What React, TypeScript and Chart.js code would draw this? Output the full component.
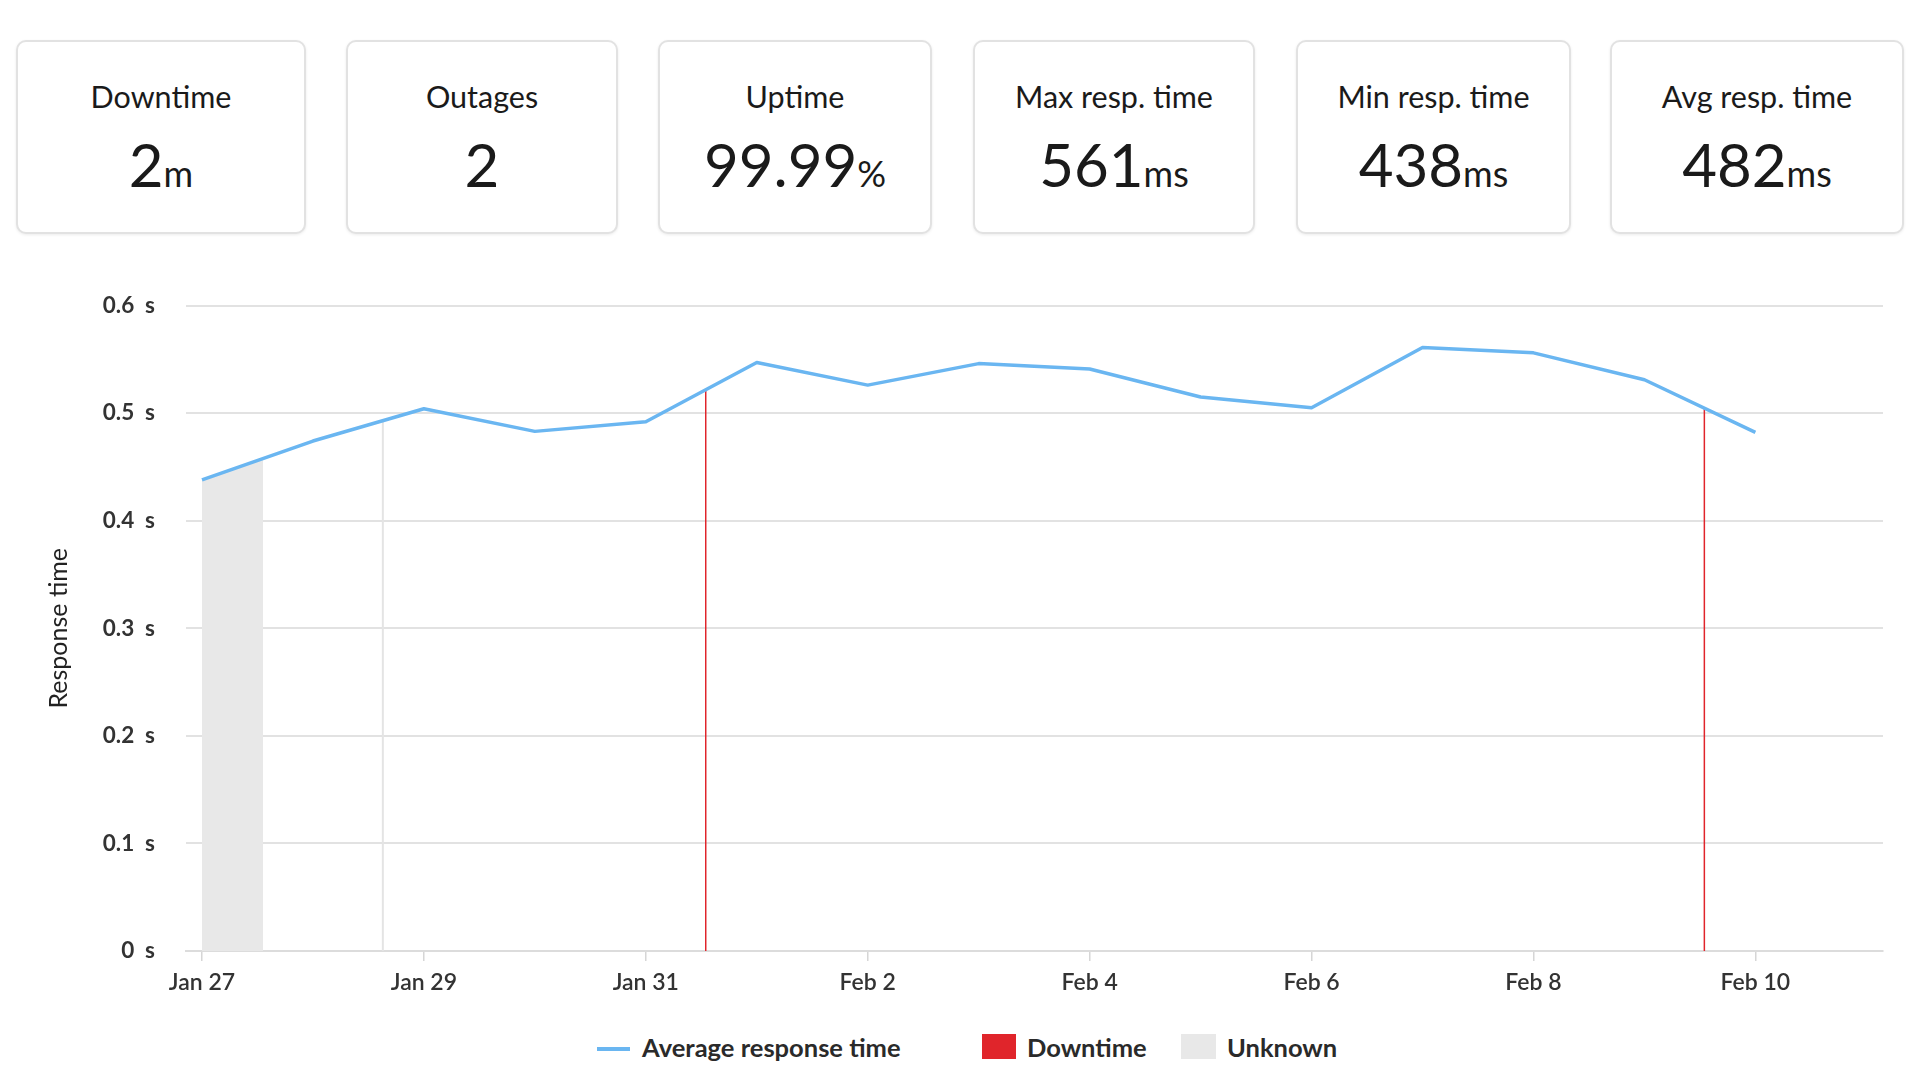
import React, { useEffect, useRef } from "react";
import { Chart, registerables } from "chart.js";

Chart.register(...registerables);

// ---- Data ----
const statTitles = ["Downtime", "Outages", "Uptime", "Max resp. time", "Min resp. time", "Avg resp. time"];
const statValues = ["2", "2", "99.99", "561", "438", "482"];
const statUnits = ["m", "", "%", "ms", "ms", "ms"];

// days since Jan 27
const pointDays = [0, 1, 2, 3, 4, 5, 6, 7, 8, 9, 10, 11, 12, 13, 14];
const avgResponse = [0.438, 0.474, 0.504, 0.483, 0.492, 0.547, 0.526, 0.546, 0.541, 0.515, 0.505, 0.561, 0.556, 0.531, 0.482];

const xTickDays = [0, 2, 4, 6, 8, 10, 12, 14];
const xTickLabels = ["Jan 27", "Jan 29", "Jan 31", "Feb 2", "Feb 4", "Feb 6", "Feb 8", "Feb 10"];
const yTickValues = [0, 0.1, 0.2, 0.3, 0.4, 0.5, 0.6];

const downtimeDays = [4.54, 13.54];
const downtimeTops = [0.522, 0.505];
const unknownDays = [0, 0.55];
const unknownTops = [0.438, 0.458];
const markerDays = [1.63];
const markerTops = [0.493];

const legendLabels = ["Average response time", "Downtime", "Unknown"];

const BLUE = "#6ab6f1";
const RED = "#e0252b";
const GRAY = "#e8e8e8";

// card layout (page px)
const cardBoxes = [
  [16, 290],
  [346, 272],
  [658, 274],
  [973, 282],
  [1296, 275],
  [1610, 294],
];

const CANVAS_TOP = 261;
const CANVAS_H = 740;

function ChartCanvas() {
  const ref = useRef<HTMLCanvasElement | null>(null);
  useEffect(() => {
    if (!ref.current) return;
    Chart.defaults.font.family = "Lato";
    const downtimeData: any[] = [];
    downtimeDays.forEach((d, i) => {
      if (i > 0) downtimeData.push({ x: (downtimeDays[i - 1] + d) / 2, y: null });
      downtimeData.push({ x: d, y: 0 });
      downtimeData.push({ x: d, y: downtimeTops[i] });
    });
    const chart = new Chart(ref.current, {
      type: "line",
      data: {
        datasets: [
          {
            label: legendLabels[0],
            data: pointDays.map((d, i) => ({ x: d, y: avgResponse[i] })),
            borderColor: BLUE,
            borderWidth: 3.5,
            pointRadius: 0,
            tension: 0,
            fill: false,
            borderJoinStyle: "round",
          },
          {
            label: legendLabels[1],
            data: downtimeData,
            borderColor: RED,
            borderWidth: 1.5,
            pointRadius: 0,
            spanGaps: false,
            fill: false,
          },
          {
            label: "marker",
            data: markerDays.flatMap((d, i) => [
              { x: d, y: 0 },
              { x: d, y: markerTops[i] },
            ]),
            borderColor: "#e4e4e4",
            borderWidth: 2,
            pointRadius: 0,
            fill: false,
          },
          {
            label: legendLabels[2],
            data: unknownDays.map((d, i) => ({ x: d, y: unknownTops[i] })),
            borderWidth: 0,
            borderColor: "rgba(0,0,0,0)",
            backgroundColor: GRAY,
            pointRadius: 0,
            fill: "origin",
          },
        ],
      },
      options: {
        animation: false,
        responsive: false,
        devicePixelRatio: 1,
        layout: { padding: { left: 0, right: 37, top: 24.5, bottom: 0 } },
        plugins: { legend: { display: false }, tooltip: { enabled: false } },
        scales: {
          x: {
            type: "linear",
            min: -0.144,
            max: 15.15,
            afterBuildTicks: (axis: any) => {
              axis.ticks = xTickDays.map((v) => ({ value: v }));
            },
            afterFit: (axis: any) => {
              axis.height = 50;
            },
            ticks: {
              autoSkip: false,
              maxRotation: 0,
              padding: 8,
              color: "#333",
              font: { size: 23, weight: "600" },
              callback: (v: any) => {
                const idx = xTickDays.indexOf(Number(v));
                return idx >= 0 ? xTickLabels[idx] : "";
              },
            },
            grid: { drawOnChartArea: false, drawTicks: true, tickLength: 10, color: "#d6d6d6", lineWidth: 1.5 },
            border: { display: true, color: "#dcdcdc", width: 2 },
          },
          y: {
            min: 0,
            max: 0.6,
            afterBuildTicks: (axis: any) => {
              axis.ticks = yTickValues.map((v) => ({ value: v }));
            },
            afterFit: (axis: any) => {
              axis.width = 186;
            },
            ticks: {
              padding: 31,
              color: "#333",
              font: { size: 22.5, weight: "bold" },
              callback: (v: any) => `${Number(v)}\u00a0\u00a0s`,
            },
            grid: { color: "#e2e2e2", lineWidth: 2, drawTicks: false },
            border: { display: false },
            title: {
              display: true,
              text: "Response time",
              color: "#222",
              font: { size: 25, weight: "normal" },
              padding: { top: 44, bottom: 0 },
            },
          },
        },
      },
    } as any);
    return () => chart.destroy();
  }, []);
  return <canvas ref={ref} width={1920} height={CANVAS_H} style={{ display: "block", width: 1920, height: CANVAS_H }} />;
}

export default function App() {
  const legendText: React.CSSProperties = {
    position: "absolute",
    top: 1032,
    fontSize: 25.5,
    fontWeight: 700,
    lineHeight: 1.2,
    color: "#2a2a2a",
    whiteSpace: "nowrap",
  };
  return (
    <div
      style={{
        position: "absolute",
        left: 0,
        top: 0,
        width: 1920,
        height: 1080,
        background: "#fff",
        overflow: "hidden",
        fontFamily: "Lato, sans-serif",
        color: "#1a1a1a",
      }}
    >
      {cardBoxes.map(([left, width], i) => (
        <div
          key={i}
          style={{
            position: "absolute",
            left,
            top: 40,
            width,
            height: 194,
            boxSizing: "border-box",
            border: "2px solid #e2e2e2",
            borderRadius: 10,
            background: "#fff",
            boxShadow: "0 1px 3px rgba(0,0,0,0.08)",
          }}
        >
          <div style={{ position: "absolute", left: 0, right: 0, top: 36, textAlign: "center", fontSize: 30.5, lineHeight: 1.2 }}>
            {statTitles[i]}
          </div>
          <div style={{ position: "absolute", left: 0, right: 0, top: 86, textAlign: "center", fontSize: 60, lineHeight: 1.2 }}>
            {statValues[i]}
            {statUnits[i] && <span style={{ fontSize: 36 }}>{statUnits[i]}</span>}
          </div>
        </div>
      ))}
      <div style={{ position: "absolute", left: 0, top: CANVAS_TOP, width: 1920, height: CANVAS_H }}>
        <ChartCanvas />
      </div>
      {/* legend */}
      <div style={{ position: "absolute", left: 597, top: 1047, width: 33, height: 3.5, background: BLUE }} />
      <div style={{ ...legendText, left: 642 }}>{legendLabels[0]}</div>
      <div style={{ position: "absolute", left: 982, top: 1034, width: 34, height: 25, background: RED }} />
      <div style={{ ...legendText, left: 1027 }}>{legendLabels[1]}</div>
      <div style={{ position: "absolute", left: 1181, top: 1034, width: 35, height: 25, background: GRAY }} />
      <div style={{ ...legendText, left: 1227 }}>{legendLabels[2]}</div>
    </div>
  );
}
